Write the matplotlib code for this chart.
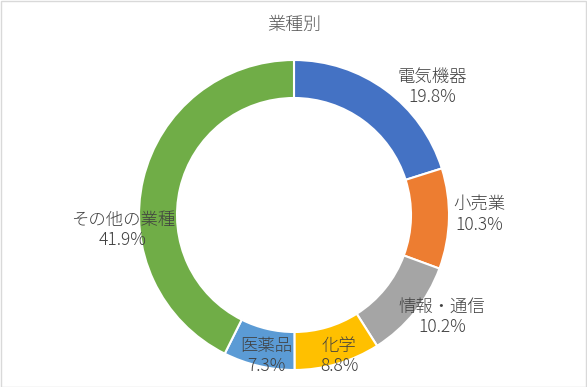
import matplotlib
matplotlib.use("Agg")
import matplotlib.pyplot as plt
from matplotlib.patches import Rectangle

plt.rcParams['font.family'] = ['Noto Sans CJK JP', 'DejaVu Sans']

categories = ["電気機器", "小売業", "情報・通信", "化学", "医薬品", "その他の業種"]
values = [19.8, 10.3, 10.2, 8.8, 7.3, 41.9]
colors = ["#4472C4", "#ED7D31", "#A5A5A5", "#FFC000", "#5B9BD5", "#70AD47"]
title = "業種別"

# label anchor positions in pixel coordinates (x, y from top)
label_pos = [(432, 87), (479, 215), (442, 317), (339, 356), (266, 356), (123, 230)]

W, H = 587, 387
fig = plt.figure(figsize=(W / 100, H / 100), dpi=100)
ax = fig.add_axes([0, 0, 1, 1])

cx, cy, r = 294, H - 215, 155
ax.pie(values, colors=colors, startangle=90, counterclock=False,
       center=(cx, cy), radius=r,
       wedgeprops=dict(width=38, edgecolor='white', linewidth=1.5))
ax.set_xlim(0, W)
ax.set_ylim(0, H)
ax.set_aspect('equal')
ax.axis('off')

for cat, v, (x, y) in zip(categories, values, label_pos):
    ax.text(x, H - y, f"{cat}\n{v:.1f}%", ha='center', va='center',
            fontsize=12.5, color='#404040', linespacing=1.2,
            fontweight='light')

ax.text(cx, H - 25, title, ha='center', va='center', fontsize=13,
        color='#595959', fontweight='light')

fig.patches.append(Rectangle((0.5 / W, 0.5 / H), 1 - 1.5 / W, 1 - 1.5 / H,
                             transform=fig.transFigure, fill=False,
                             edgecolor='#D9D9D9', linewidth=1))

fig.savefig("out.png", dpi=100, facecolor='white')
